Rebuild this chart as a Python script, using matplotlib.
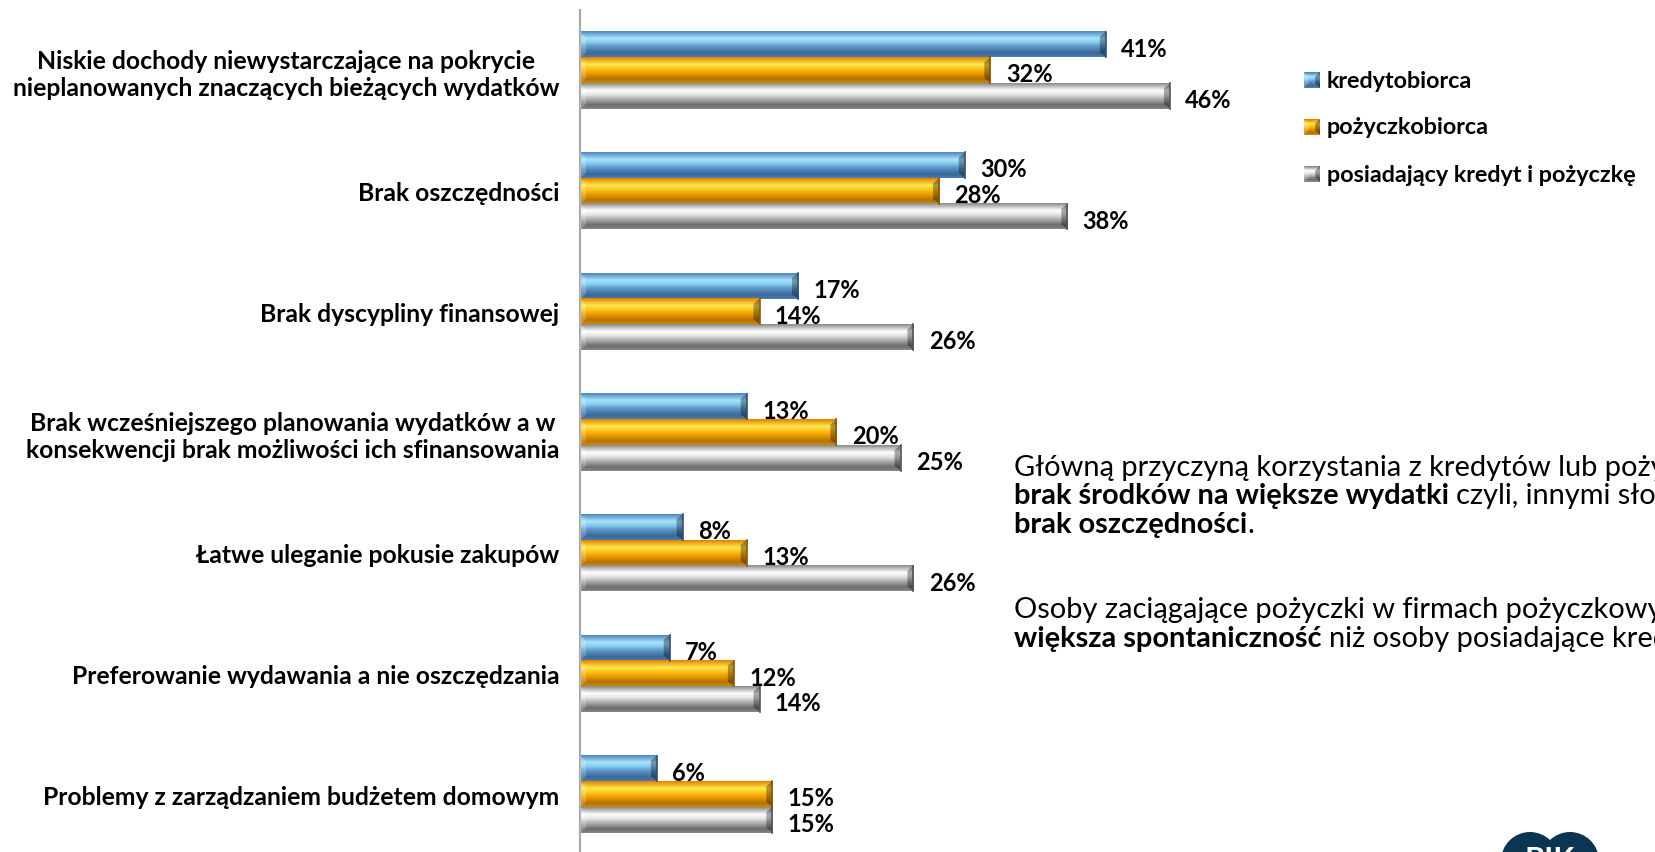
import numpy as np
import matplotlib
matplotlib.use("Agg")
import matplotlib.pyplot as plt
from matplotlib.colors import LinearSegmentedColormap
from matplotlib.patches import Polygon, Ellipse

plt.rcParams['font.family'] = ['Lato', 'DejaVu Sans']

categories = [
    "Niskie dochody niewystarczające na pokrycie\nnieplanowanych znaczących bieżących wydatków",
    "Brak oszczędności",
    "Brak dyscypliny finansowej",
    "Brak wcześniejszego planowania wydatków a w\nkonsekwencji brak możliwości ich sfinansowania",
    "Łatwe uleganie pokusie zakupów",
    "Preferowanie wydawania a nie oszczędzania",
    "Problemy z zarządzaniem budżetem domowym",
]
series_names = ["kredytobiorca", "pożyczkobiorca", "posiadający kredyt i pożyczkę"]
kredytobiorca = [41, 30, 17, 13, 8, 7, 6]
pozyczkobiorca = [32, 28, 14, 20, 13, 12, 15]
oba = [46, 38, 26, 25, 26, 14, 15]

# gradient stops top -> bottom for each series
gradients = [
    ["#4f86bf", "#a6e4fa", "#82c6ee", "#5b96c8", "#3a6898", "#4a7cae"],
    ["#e08400", "#ffe84e", "#fcc41c", "#f2a000", "#b57200", "#cf8a00"],
    ["#8a8a8a", "#ffffff", "#e4e4e4", "#b4b4b4", "#6c6c6c", "#868686"],
]
edge_colors = ["#2d5278", "#8a5800", "#555555"]

W, H = 1656, 853
fig = plt.figure(figsize=(W / 100, H / 100), dpi=100)
ax = fig.add_axes([580 / W, 0, 1026 / W, 1 - 11 / H])
ax.set_xlim(0, 80)
ax.set_ylim(-6.48, 0.5)

bh = 0.213
px_x = 80 / 1026
px_y = 6.98 / (H - 11)
bx, by = 6 * px_x, 5 * px_y


def bevel_bar(v, yc, k):
    top, bot = yc + bh / 2, yc - bh / 2
    cmap = LinearSegmentedColormap.from_list("g%d" % k, list(zip([0, .28, .45, .6, .85, 1], gradients[k])))
    grad = np.linspace(0, 1, 64).reshape(-1, 1)
    ax.imshow(grad, cmap=cmap, extent=(0, v, bot, top), origin="upper",
              aspect="auto", interpolation="bilinear", zorder=2)
    ax.add_patch(Polygon([(0, top), (bx, top - by), (bx, bot + by), (0, bot)],
                         closed=True, fc="white", alpha=0.22, lw=0, zorder=3))
    ax.add_patch(Polygon([(v, top), (v - bx, top - by), (v - bx, bot + by), (v, bot)],
                         closed=True, fc="black", alpha=0.32, lw=0, zorder=3))
    ax.plot([v, v], [bot, top], color=edge_colors[k], lw=1.2, zorder=4)


for i in range(len(categories)):
    yc = -i
    for k, vals in enumerate([kredytobiorca, pozyczkobiorca, oba]):
        y = yc + bh * (1 - k)
        bevel_bar(vals[i], y, k)
        ax.text(vals[i] + 1.2, y - 0.03, "%d%%" % vals[i], ha="left", va="center",
                fontsize=17, fontweight="bold", color="black", zorder=5)

ax.set_yticks([-i for i in range(len(categories))])
ax.set_yticklabels(categories, fontsize=17.8, fontweight="bold", multialignment="center")
ax.tick_params(axis="y", length=0, pad=15)
ax.set_xticks([])
for s in ["top", "right", "bottom"]:
    ax.spines[s].set_visible(False)
ax.spines["left"].set_color("#a6a6a6")
ax.spines["left"].set_linewidth(1.5)

# legend
for k, name in enumerate(series_names):
    yy = H - (81 + 47 * k)
    lax = fig.add_axes([1304 / W, (yy - 8) / H, 16 / W, 16 / H])
    cmap = LinearSegmentedColormap.from_list("l%d" % k, list(zip([0, .28, .45, .6, .85, 1], gradients[k])))
    lax.imshow(np.linspace(0, 1, 16).reshape(-1, 1), cmap=cmap, aspect="auto", extent=(0, 1, 0, 1))
    lax.add_patch(Polygon([(0, 1), (0.3, 0.7), (0.3, 0.3), (0, 0)], fc="white", alpha=0.25, lw=0))
    lax.add_patch(Polygon([(1, 1), (0.7, 0.7), (0.7, 0.3), (1, 0)], fc="black", alpha=0.35, lw=0))
    lax.axis("off")
    fig.text(1327 / W, yy / H, name, fontsize=16.8, fontweight="bold", va="center", ha="left")

# side commentary with mixed weights
renderer = fig.canvas.get_renderer()
FS = 20.9


def width_px(s, weight):
    t = fig.text(0, 0, s, fontsize=FS, fontweight=weight)
    w = t.get_window_extent(renderer).width
    t.remove()
    return w


space = width_px("a a", "normal") - width_px("aa", "normal")


def runs_line(x, y, runs):
    for s, weight in runs:
        if s.startswith(" "):
            x += space
            s = s[1:]
        t = fig.text(x / W, y / H, s, fontsize=FS, fontweight=weight, va="center", ha="left")
        x += t.get_window_extent(renderer).width


lines = [
    (468, [("Główną przyczyną korzystania z kredytów lub pożyczek jest", "normal")]),
    (496, [("brak środków na większe wydatki", "bold"), (" czyli, innymi słowy,", "normal")]),
    (525, [("brak oszczędności", "bold"), (".", "normal")]),
    (610, [("Osoby zaciągające pożyczki w firmach pożyczkowych cechuje", "normal")]),
    (639, [("większa spontaniczność", "bold"), (" niż osoby posiadające kredyty.", "normal")]),
]
for yl, runs in lines:
    runs_line(1014, H - yl, runs)

# logo
for cx in (1530, 1570):
    fig.add_artist(Ellipse((cx / W, (H - 862) / H), 58 / W, 58 / H, color="#0b3550", lw=0))
fig.text(1550 / W, (H - 860) / H, "BIK", color="white", fontsize=22, fontweight="bold",
         ha="center", va="center")

fig.savefig("out.png", dpi=100)
